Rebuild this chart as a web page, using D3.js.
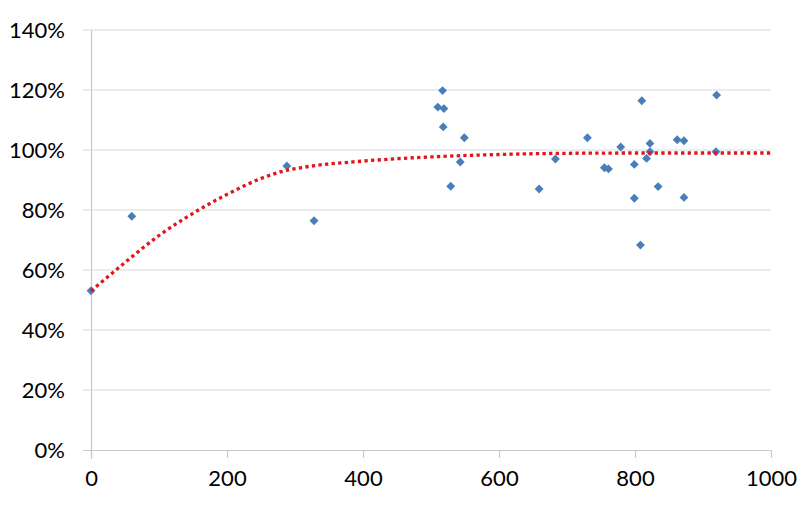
<!DOCTYPE html>
<html><head><meta charset="utf-8">
<script src="https://cdn.jsdelivr.net/npm/d3@7"></script>
<style>
html,body{margin:0;padding:0;background:#fff;}
svg text{font-family:Lato,"Open Sans",sans-serif;fill:#000;}
</style></head>
<body><svg id="c" width="812" height="509"></svg>
<script>
const xTicks = [0,200,400,600,800,1000];
const yTicks = [0,0.2,0.4,0.6,0.8,1.0,1.2,1.4];
const pointX = [0,60,288,328,510,517,519,518,549,543,529,659,683,730,755,761,779,799,799,808,810,817,822,822,834,862,872,872,919,920];
const pointY = [0.531,0.779,0.947,0.764,1.143,1.198,1.138,1.077,1.041,0.960,0.879,0.870,0.970,1.041,0.941,0.937,1.010,0.952,0.839,0.683,1.164,0.972,1.022,0.994,0.878,1.034,1.031,0.842,0.994,1.183];
const trendX = [0,50,100,150,200,250,280,320,400,450,500,600,700,800,900,1000];
const trendY = [0.53,0.625,0.715,0.789,0.852,0.905,0.928,0.945,0.963,0.971,0.977,0.985,0.989,0.990,0.990,0.990];

const svg = d3.select("#c");
const x = d3.scaleLinear().domain([0,1000]).range([91,771]);
const y = d3.scaleLinear().domain([0,1.4]).range([450,30]);

// gridlines
svg.append("g").selectAll("line").data(yTicks.slice(1)).join("line")
  .attr("x1",83).attr("x2",771).attr("y1",d=>y(d)).attr("y2",d=>y(d))
  .attr("stroke","#d9d9d9").attr("stroke-width",1.2);

// axes
const xAxis = d3.axisBottom(x).tickValues(xTicks).tickSize(8).tickPadding(12).tickFormat(d3.format("d"));
const gx = svg.append("g").attr("transform","translate(0,450)").call(xAxis);
gx.select(".domain").attr("d","M83,0.5H771").attr("stroke","#c8c8c8").attr("stroke-width",1.2);
gx.selectAll(".tick line").attr("stroke","#c8c8c8").attr("stroke-width",1.2);
gx.selectAll("text").attr("font-size",22).attr("font-family","Lato, 'Open Sans', sans-serif").attr("fill","#000");

const yAxis = d3.axisLeft(y).tickValues(yTicks).tickSize(0).tickPadding(26).tickFormat(d3.format(".0%"));
const gy = svg.append("g").attr("transform","translate(91,0)").call(yAxis);
gy.select(".domain").attr("d","M0.5,30V459").attr("stroke","#c8c8c8").attr("stroke-width",1.2);
gy.selectAll("text").attr("font-size",22).attr("font-family","Lato, 'Open Sans', sans-serif").attr("fill","#000");

// points
const pts = pointX.map((v,i)=>({x:v,y:pointY[i]}));
svg.append("g").selectAll("path").data(pts).join("path")
  .attr("d", d3.symbol().type(d3.symbolDiamond2).size(50))
  .attr("transform", d=>`translate(${x(d.x)},${y(d.y)})`)
  .attr("fill","#4a7ebb");

// trend
const tr = trendX.map((v,i)=>({x:v,y:trendY[i]}));
svg.append("path").datum(tr)
  .attr("d", d3.line().x(d=>x(d.x)).y(d=>y(d.y)).curve(d3.curveMonotoneX))
  .attr("fill","none").attr("stroke","#e3141c").attr("stroke-width",3.3)
  .attr("stroke-dasharray","3.3,3.3");
</script></body></html>
